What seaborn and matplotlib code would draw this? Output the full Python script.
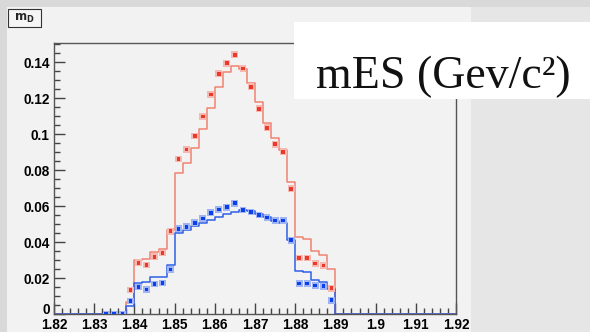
import numpy as np
import pandas as pd
import matplotlib
matplotlib.use("Agg")
import matplotlib.pyplot as plt
from matplotlib.patches import Rectangle
from matplotlib.ticker import MultipleLocator, FuncFormatter
import seaborn as sns

# bin centres of the m_D histogram (bin width 0.002)
bin_centers = [1.833, 1.835, 1.837, 1.839, 1.841, 1.843, 1.845, 1.847, 1.849, 1.851,
               1.853, 1.855, 1.857, 1.859, 1.861, 1.863, 1.865, 1.867, 1.869, 1.871,
               1.873, 1.875, 1.877, 1.879, 1.881, 1.883, 1.885, 1.887, 1.889]

# histogram (line) contents
red_hist = [0, 0, 0, 0.0069, 0.0300, 0.0305, 0.0343, 0.0360, 0.0467, 0.0781,
            0.0841, 0.0920, 0.1026, 0.1146, 0.1261, 0.1343, 0.1378, 0.1363, 0.1285, 0.1176,
            0.1059, 0.0976, 0.0911, 0.0735, 0.0430, 0.0417, 0.0352, 0.0328, 0.0250]
blue_hist = [0, 0, 0, 0.0044, 0.0170, 0.0176, 0.0204, 0.0207, 0.0270, 0.0452,
             0.0467, 0.0489, 0.0504, 0.0522, 0.0541, 0.0554, 0.0565, 0.0578, 0.0570, 0.0556,
             0.0541, 0.0517, 0.0504, 0.0411, 0.0237, 0.0233, 0.0189, 0.0178, 0.0139]

# point (marker) contents
red_pts = [0, 0, 0, 0.0133, 0.0285, 0.0272, 0.0318, 0.0339, 0.0460, 0.0861,
           0.0915, 0.0989, 0.1098, 0.1220, 0.1335, 0.1394, 0.1441, 0.1365, 0.1263, 0.1141,
           0.1035, 0.0944, 0.0902, 0.0696, 0.0311, 0.0311, 0.0281, 0.0269, 0.0143]
blue_pts = [0, 0, 0, 0.0072, 0.0150, 0.0137, 0.0167, 0.0172, 0.0248, 0.0474,
            0.0485, 0.0507, 0.0531, 0.0563, 0.0580, 0.0593, 0.0615, 0.0578, 0.0567, 0.0550,
            0.0537, 0.0520, 0.0520, 0.0410, 0.0169, 0.0170, 0.0159, 0.0154, 0.0076]

x_range = (1.82, 1.92)

sns.set_style("ticks")
plt.rcParams["font.family"] = ["Liberation Sans", "DejaVu Sans"]

fig = plt.figure(figsize=(5.9, 3.32), dpi=100, facecolor="#d9d9d9")
W, H = 590.0, 332.0

# canvas panel and right-hand grey area
fig.add_artist(Rectangle((7 / W, 0), 464 / W, 1 - 7 / H, transform=fig.transFigure,
                         facecolor="#f2f2f2", edgecolor="none", zorder=-5))
fig.add_artist(Rectangle((471 / W, 0), 119 / W, 1 - 7 / H, transform=fig.transFigure,
                         facecolor="#e6e6e6", edgecolor="none", zorder=-5))

ax = fig.add_axes([54 / W, 18 / H, 402 / W, 271 / H])
ax.set_facecolor("#f2f2f2")

# step outlines: pad with the axis range so the zero line spans the frame
c = np.array(bin_centers)
edges = np.r_[x_range[0], c - 0.001, c[-1] + 0.001, x_range[1]]
hist = pd.DataFrame({
    "x": np.r_[edges, edges],
    "y": np.r_[0, red_hist, 0, 0, 0, blue_hist, 0, 0],
    "s": ["red"] * len(edges) + ["blue"] * len(edges),
})
sns.lineplot(data=hist[hist.s == "red"], x="x", y="y", color="#f08272", lw=1.1,
             drawstyle="steps-post", sort=False, estimator=None, ax=ax)
sns.lineplot(data=hist[hist.s == "blue"], x="x", y="y", color="#2f5fe6", lw=1.1,
             drawstyle="steps-post", sort=False, estimator=None, ax=ax)

pts = pd.DataFrame({"x": bin_centers * 2, "y": red_pts + blue_pts,
                    "s": ["red"] * len(bin_centers) + ["blue"] * len(bin_centers)})
for name, halo, core in [("red", "#f6b8b0", "#e8392b"), ("blue", "#9fb4f4", "#0d3fe8")]:
    d = pts[pts.s == name]
    sns.scatterplot(data=d, x="x", y="y", marker="s", s=24, color=halo,
                    edgecolor="none", ax=ax, zorder=4)
    sns.scatterplot(data=d, x="x", y="y", marker="s", s=7, color=core,
                    edgecolor="none", ax=ax, zorder=5)

ax.set_xlim(*x_range)
ax.set_ylim(0, 0.1506)
ax.set_xlabel("")
ax.set_ylabel("")
ax.xaxis.set_major_locator(MultipleLocator(0.01))
ax.xaxis.set_minor_locator(MultipleLocator(0.002))
ax.yaxis.set_major_locator(MultipleLocator(0.02))
ax.yaxis.set_minor_locator(MultipleLocator(0.005))
fmt = FuncFormatter(lambda v, p: "%g" % round(v, 4))
ax.xaxis.set_major_formatter(fmt)
ax.yaxis.set_major_formatter(fmt)
ax.tick_params(which="both", direction="in", colors="#444444", labelcolor="black",
               width=1)
ax.tick_params(which="major", length=8, labelsize=9.8, pad=3)
ax.tick_params(which="minor", length=4)
fig.canvas.draw()
for lab in ax.get_xticklabels() + ax.get_yticklabels():
    lab.set_fontweight("bold")
# sit the y "0" label on the axis so it clears the x labels
for tick in ax.yaxis.get_major_ticks():
    if tick.label1.get_text() == "0":
        tick.label1.set_verticalalignment("baseline")
for sp in ax.spines.values():
    sp.set_visible(True)
    sp.set_color("#555555")
    sp.set_linewidth(1)

# histogram name box
fig.add_artist(Rectangle((9 / W, 1 - 28 / H), 33 / W, 18 / H, transform=fig.transFigure,
                         facecolor="#999999", edgecolor="none", zorder=4))
fig.add_artist(Rectangle((8 / W, 1 - 27 / H), 33 / W, 18 / H, transform=fig.transFigure,
                         facecolor="#f5f5f5", edgecolor="#333333", lw=0.8, zorder=5))
fig.text(24.5 / W, 1 - 18 / H, r"$\mathbf{m}_{\mathbf{D}}$", ha="center", va="center",
         fontsize=8.5, zorder=6)

# title overlay
fig.add_artist(Rectangle((294 / W, 1 - 99 / H), 296 / W, 77 / H, transform=fig.transFigure,
                         facecolor="white", edgecolor="none", zorder=5))
fig.text(443 / W, 1 - 88 / H, "mES (Gev/c²)", ha="center", va="baseline",
         fontsize=33, family="Liberation Serif", color="#111111", zorder=6)

plt.savefig("out.png", dpi=100, facecolor=fig.get_facecolor())
